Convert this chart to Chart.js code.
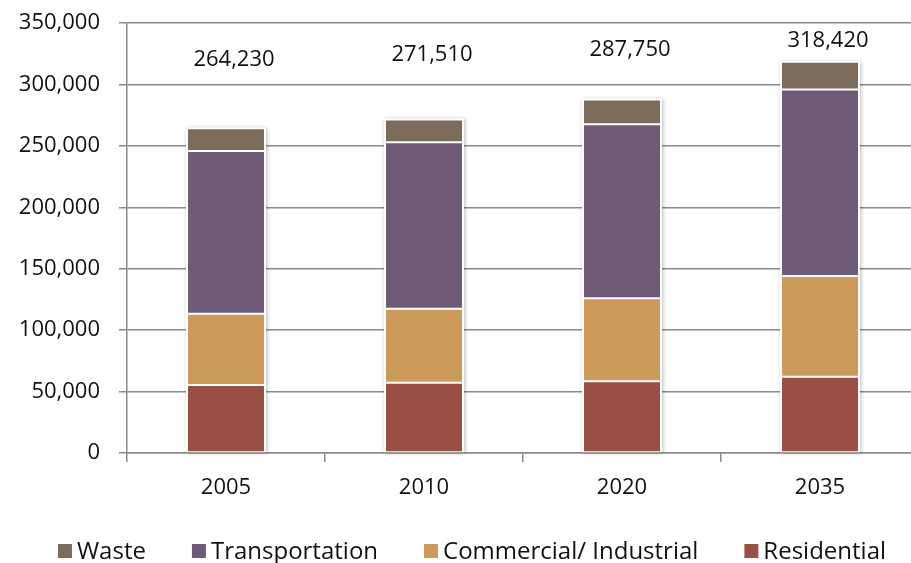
<!DOCTYPE html>
<html>
<head>
<meta charset="utf-8">
<script src="https://cdn.jsdelivr.net/npm/chart.js@4"></script>
<style>
  html, body { margin: 0; padding: 0; background: #fff; overflow: hidden; }
  #wrap { width: 920px; height: 563px; }
</style>
</head>
<body>
<div id="wrap"><canvas id="c" width="920" height="563"></canvas></div>
<script>
const categories = ['2005', '2010', '2020', '2035'];
const residential = [55400, 57100, 58400, 62000];
const commercial = [57900, 60300, 67600, 82000];
const transportation = [132600, 135600, 141600, 151900];
const waste = [18330, 18510, 20150, 22520];
const seriesNames = ['Residential', 'Commercial/ Industrial', 'Transportation', 'Waste'];
const yTicks = [0, 50000, 100000, 150000, 200000, 250000, 300000, 350000];

const colors = ['#9a4f45', '#cc9a5b', '#6f5b78', '#7d6c5a'];
const FONT = '"Open Sans", "DejaVu Sans", sans-serif';
const totals = categories.map((_, i) => residential[i] + commercial[i] + transportation[i] + waste[i]);

const barShadow = {
  id: 'barShadow',
  beforeDatasetsDraw(chart) {
    const ctx = chart.ctx;
    const first = chart.getDatasetMeta(0).data;
    const last = chart.getDatasetMeta(chart.data.datasets.length - 1).data;
    ctx.save();
    ctx.shadowColor = 'rgba(0,0,0,0.28)';
    ctx.shadowBlur = 4;
    ctx.shadowOffsetX = 1;
    ctx.shadowOffsetY = 1;
    ctx.fillStyle = '#ffffff';
    first.forEach((bar, i) => {
      const top = last[i].y;
      const bottom = bar.base;
      const half = bar.width / 2;
      ctx.fillRect(bar.x - half - 1, top - 1, bar.width + 2, bottom - top + 1);
    });
    ctx.restore();
  }
};

const totalLabels = {
  id: 'totalLabels',
  afterDatasetsDraw(chart) {
    const ctx = chart.ctx;
    const y = chart.scales.y;
    const offsets = [69, 65, 50, 21];
    const meta = chart.getDatasetMeta(0).data;
    ctx.save();
    ctx.font = '22px ' + FONT;
    ctx.fillStyle = '#111';
    ctx.textAlign = 'center';
    ctx.textBaseline = 'middle';
    totals.forEach((t, i) => {
      ctx.fillText(t.toLocaleString('en-US'), meta[i].x + 8, y.getPixelForValue(t) - offsets[i]);
    });
    ctx.restore();
  }
};

const customLegend = {
  id: 'customLegend',
  afterDraw(chart) {
    const ctx = chart.ctx;
    const ds = chart.data.datasets.slice().reverse();
    ctx.save();
    ctx.font = '24px ' + FONT;
    ctx.textBaseline = 'middle';
    const box = 14, gapText = 5, gapItem = 46;
    const widths = ds.map(d => box + gapText + ctx.measureText(d.label).width);
    const total = widths.reduce((a, b) => a + b, 0) + gapItem * (ds.length - 1);
    let x = 472 - total / 2;
    const cy = 551;
    ds.forEach((d, i) => {
      ctx.fillStyle = d.backgroundColor;
      ctx.fillRect(x, cy - box / 2, box, box);
      ctx.fillStyle = '#111';
      ctx.fillText(d.label, x + box + gapText, cy + 1);
      x += widths[i] + gapItem;
    });
    ctx.restore();
  }
};

const series = [residential, commercial, transportation, waste];
new Chart(document.getElementById('c'), {
  type: 'bar',
  data: {
    labels: categories,
    datasets: series.map((arr, i) => ({
      label: seriesNames[i],
      data: arr,
      backgroundColor: colors[i],
      borderColor: '#ffffff',
      borderWidth: 1,
      borderSkipped: false,
      categoryPercentage: 1,
      barPercentage: 0.394
    }))
  },
  options: {
    responsive: false,
    animation: false,
    devicePixelRatio: 1,
    layout: { padding: { left: 19, right: 1, top: 23, bottom: 63 } },
    plugins: {
      legend: { display: false },
      tooltip: { enabled: false }
    },
    scales: {
      x: {
        stacked: true,
        afterFit(scale) { scale.height = 47; scale.paddingLeft = 0; scale.paddingRight = 0; },
        grid: {
          display: true,
          offset: true,
          drawOnChartArea: false,
          drawTicks: true,
          tickLength: 9,
          color: '#8a8a8a',
          lineWidth: 1.5
        },
        border: { display: true, color: '#8a8a8a', width: 1.5 },
        ticks: {
          color: '#111',
          padding: 13,
          font: { family: FONT, size: 22 }
        }
      },
      y: {
        stacked: true,
        min: 0,
        max: 350000,
        afterFit(scale) { scale.width = 108; scale.paddingTop = 0; scale.paddingBottom = 0; },
        afterBuildTicks(scale) { scale.ticks = yTicks.map(v => ({ value: v })); },
        grid: {
          color: '#8a8a8a',
          lineWidth: 1.5,
          drawTicks: true,
          tickLength: 8
        },
        border: { display: true, color: '#8a8a8a', width: 1.5 },
        ticks: {
          color: '#111',
          padding: 19,
          font: { family: FONT, size: 22 },
          callback: v => v.toLocaleString('en-US')
        }
      }
    }
  },
  plugins: [barShadow, totalLabels, customLegend]
});
</script>
</body>
</html>
